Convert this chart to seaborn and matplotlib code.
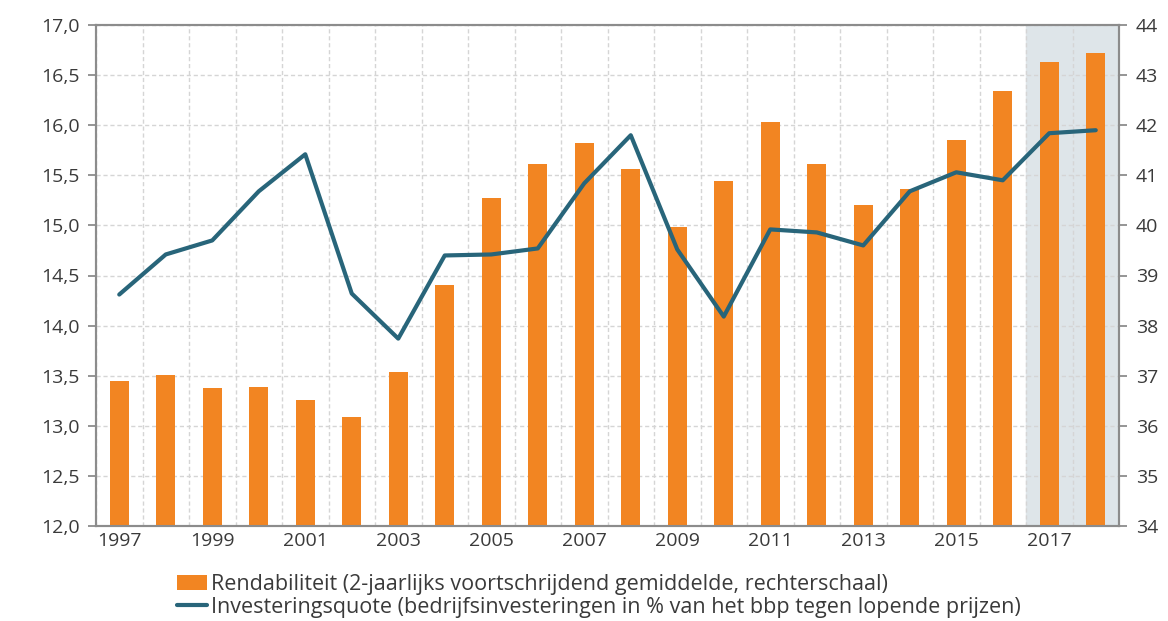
import numpy as np
import pandas as pd
import matplotlib
matplotlib.use('Agg')
import matplotlib.pyplot as plt
import seaborn as sns
from matplotlib.ticker import FuncFormatter, MultipleLocator
from matplotlib.patches import Patch
from matplotlib.lines import Line2D

# data
years = [str(y) for y in range(1997, 2019)]
rendabiliteit = [36.89, 37.01, 36.75, 36.78, 36.51, 36.17, 37.07, 38.81, 40.55, 41.23, 41.64,
                 41.13, 39.97, 40.89, 42.06, 41.23, 40.41, 40.72, 41.70, 42.69, 43.26, 43.44]
investeringsquote = [14.31, 14.71, 14.85, 15.34, 15.71, 14.32, 13.87, 14.70, 14.71, 14.77, 15.42,
                     15.90, 14.76, 14.09, 14.96, 14.93, 14.80, 15.34, 15.53, 15.45, 15.92, 15.95]
label_bar = 'Rendabiliteit (2-jaarlijks voortschrijdend gemiddelde, rechterschaal)'
label_line = 'Investeringsquote (bedrijfsinvesteringen in % van het bbp tegen lopende prijzen)'

orange = '#F28522'
blue = '#28657A'
grey = '#8C8C8C'
txt = '#3A3A3A'

df = pd.DataFrame({'jaar': years, 'rend': rendabiliteit, 'inv': investeringsquote})
df['pos'] = np.arange(len(df))

sns.set_style('white')
plt.rcParams['font.family'] = ['Open Sans', 'DejaVu Sans']

fig = plt.figure(figsize=(11.68, 6.21), dpi=100)
ax = fig.add_axes([96 / 1168, 1 - 526 / 621, (1119 - 96) / 1168, (526 - 25) / 621])

# bars on the right scale
ax.axvspan(19.5, 21.5, color='#DEE5E9', zorder=0)
sns.barplot(data=df, x='jaar', y='rend', color=orange, width=0.4, saturation=1,
            edgecolor='none', ax=ax, zorder=3)
ax.set_xlim(-0.5, 21.5)

# line on the left scale
ax2 = ax.twinx()
sns.lineplot(data=df, x='pos', y='inv', color=blue, linewidth=3, ax=ax2)
ax2.set_xlim(-0.5, 21.5)

ax.yaxis.tick_right()
ax.yaxis.set_label_position('right')
ax.set_ylim(34, 44)
ax.yaxis.set_major_locator(MultipleLocator(1))

ax2.yaxis.tick_left()
ax2.yaxis.set_label_position('left')
ax2.set_ylim(12, 17)
ax2.yaxis.set_major_locator(MultipleLocator(0.5))
ax2.yaxis.set_major_formatter(FuncFormatter(lambda v, p: f'{v:.1f}'.replace('.', ',')))

# x ticks: labels under every other bar, tick marks between categories
ax.set_xticks(np.arange(0, len(years), 2))
ax.set_xticklabels(years[::2])
ax.set_xticks(np.arange(-0.5, len(years) + 0.5, 1), minor=True)
ax.tick_params(axis='x', which='major', length=0, labelsize=14, labelcolor=txt, pad=4)
ax.tick_params(axis='x', which='minor', length=6, width=1.3, color=grey)
ax.tick_params(axis='y', length=6, width=1.3, color=grey, labelsize=14, labelcolor=txt, pad=6)
ax2.tick_params(axis='y', length=6, width=1.3, color=grey, labelsize=14, labelcolor=txt, pad=6)

ax.grid(False)
ax2.grid(False)
ax.xaxis.grid(True, which='minor', linestyle=(0, (3, 2)), color='#D5D5D5', linewidth=1, zorder=1)
ax.yaxis.grid(True, which='major', linestyle=(0, (3, 2)), color='#D5D5D5', linewidth=1, zorder=1)
ax.set_axisbelow(True)

for a in (ax, ax2):
    a.set_xlabel('')
    a.set_ylabel('')
    for s in a.spines.values():
        s.set_color(grey)
        s.set_linewidth(1.5)

handles = [Patch(facecolor=orange, edgecolor='none'),
           Line2D([0], [0], color=blue, linewidth=3)]
fig.legend(handles, [label_bar, label_line], loc='upper left',
           bbox_to_anchor=(168 / 1168, 1 - 565 / 621), frameon=False, fontsize=15.5,
           handlelength=1.4, handletextpad=0.2, labelspacing=0.1, borderaxespad=0,
           labelcolor=txt)

fig.savefig('out.png', dpi=100)
